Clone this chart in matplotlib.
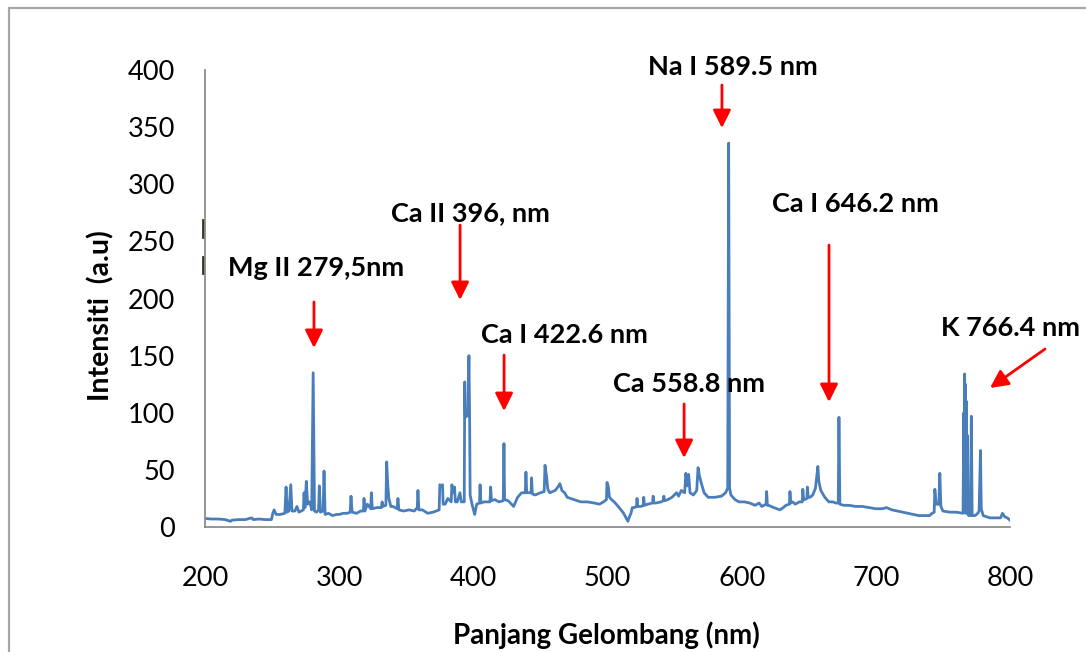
import matplotlib
matplotlib.use("Agg")
import matplotlib.pyplot as plt
from matplotlib.patches import Rectangle

plt.rcParams['font.family'] = ['Lato', 'DejaVu Sans']

# spectrum (nm, a.u)
wavelength_nm = [
    200, 205, 210, 215, 219, 220, 225, 230, 234.8, 236, 240, 245, 249.5,
    250.5, 251.5, 253, 256, 259.5, 260.4, 261.2, 262.5, 263.9, 264.8, 267, 268.5, 270,
    273.3, 273.8, 274.5, 275.5, 276.5, 278, 279.5, 280.6, 281.6, 283, 284.6, 285.2,
    286, 288, 288.7, 289.5, 292, 295, 298, 300,
    303, 306, 308.2, 308.8, 309.6, 313, 316, 318, 318.5, 319.2, 321, 323.5, 324,
    324.7, 328, 331.5, 332, 332.6, 334.8, 335.4, 336.2, 337, 338.5, 340, 343.2,
    343.8, 344.5, 348, 352, 356, 358.2, 358.7, 359.4, 362, 366, 370, 374.5, 375,
    376, 377, 377.5, 379, 381, 383.5, 384, 385, 386, 386.6, 388, 390, 391, 392.5,
    393.2, 393.6, 394.0, 394.6, 395.3, 396.0, 396.7, 397.2, 397.6, 399, 401, 402.5,
    404.6, 405, 405.6, 408, 412.4, 412.9, 413.5, 416, 419, 422.3, 422.8, 423.3,
    426, 430, 433, 436, 438.7, 439.2, 439.8, 441, 443, 443.4, 444, 446, 450,
    452.8, 453.4, 454.5, 455.5, 457, 461, 463, 464.5, 466, 468, 470,
    475, 480, 485, 490, 494, 497, 499.2, 499.6, 500.5, 501.5, 503, 505,
    508, 512, 515.2, 516, 517.5, 518.5, 520, 521.6, 522, 522.5, 525, 526.6, 527,
    527.5, 530, 533.6, 534, 534.5, 536, 540, 541.6, 542, 542.5, 545, 548, 551.5,
    553, 555, 557.5, 558.4, 559.5, 560.5, 561.5, 564, 566.5, 567.5, 568.5, 570,
    572, 575, 580, 585, 588, 589.6, 590.3, 591, 592,
    595, 598, 602, 606, 610, 613, 615, 618.2, 618.6, 619.2, 620, 624, 628.5, 631,
    633, 635.6, 636, 636.6, 638, 640, 643, 645.2, 645.6, 646.2, 647, 648.6, 649,
    649.6, 651, 653, 655, 656.8, 657.5, 659, 662, 665, 668, 670, 672, 672.5, 673.2,
    676, 680, 685, 690, 695, 700, 705, 708, 712, 716, 720, 724, 728, 732, 736,
    740, 742, 743.5, 744, 745, 747, 747.7, 748.5, 750, 755, 760, 765,
    765.6, 765.9, 766.2, 766.5, 766.8, 767.1, 767.5, 767.9, 768.3, 768.7, 769.2,
    770.5, 771.2, 771.8, 774, 776, 777, 778, 778.6, 780, 785, 790, 793, 794.4,
    796, 798, 800,
]
intensity_au = [
    7.5, 7, 7, 6.5, 5, 6, 6.5, 6.5, 8, 6.5, 7, 6.5, 6.5,
    12, 15, 11, 11, 12, 35, 13, 14, 37, 14, 14, 18, 13,
    15, 30, 17, 40, 20, 22, 15, 135, 14, 13, 15, 36,
    13, 14, 49, 11, 12, 10, 11, 11,
    12, 12, 13, 27, 13, 12, 14, 14, 25, 14, 20, 16, 30,
    16, 17, 17, 22, 18, 19, 57, 37, 25, 18, 18, 16,
    25, 15, 14, 15, 14, 17, 32, 15, 15, 12, 13, 15, 37,
    36, 37, 20, 20, 25, 22, 37, 30, 35, 22, 22, 30, 22, 22,
    22, 127, 96, 100, 97, 100, 150, 98, 28, 20, 11, 20,
    21, 37, 21, 22, 22, 35, 23, 24, 22, 23, 73, 24,
    23, 18, 26, 30, 30, 48, 30, 30, 30, 43, 29, 28, 30,
    31, 54, 45, 33, 30, 32, 35, 38, 32, 30, 26,
    24, 22, 22, 21, 20, 22, 24, 39, 36, 26, 24, 22,
    18, 12, 5, 8, 12, 17, 17, 18, 25, 18, 18, 19, 26,
    19, 20, 21, 27, 21, 21, 22, 23, 27, 23, 24, 26, 30,
    27, 32, 30, 47, 36, 46, 30, 28, 32, 52, 45, 38,
    30, 26, 26, 27, 30, 34, 336, 34, 28,
    24, 22, 22, 21, 19, 21, 18, 20, 31, 19, 19, 17, 15, 17,
    19, 20, 31, 21, 22, 20, 22, 22, 33, 24, 24, 25, 35,
    26, 26, 28, 34, 53, 40, 32, 26, 22, 22, 21, 21, 96, 20,
    19, 19, 18, 18, 17, 16, 16, 17, 15, 14, 13, 12, 11, 10, 10,
    10, 12, 13, 33, 20, 20, 47, 18, 14, 13, 13, 12,
    100, 20, 134, 15, 125, 12, 110, 14, 80, 11, 10,
    10, 97, 10, 10, 12, 14, 67, 16, 10, 8, 8, 8, 12,
    9, 8, 6,
]

# annotations: label, text position, arrow tail, arrow head (data units)
labels = ["Mg II 279,5nm", "Ca II 396, nm", "Ca I 422.6 nm", "Ca 558.8 nm",
          "Na I 589.5 nm", "Ca I 646.2 nm", "K 766.4 nm"]
text_xy = [(282.4, 226.7), (397.5, 274.8), (467.6, 168.0), (560.4, 125.2),
           (593.2, 402.6), (684.8, 282.7), (800.7, 174.2)]
arrow_tail = [(281.2, 197), (390.1, 264.3), (422.9, 150.5), (557.1, 107.7),
              (585.3, 386.9), (665.1, 246.8), (826.1, 155.8)]
arrow_head = [(281.2, 156.7), (390.1, 198.7), (422.9, 101.5), (557.1, 60.4),
              (585.3, 349.2), (665.1, 109.4), (785.1, 121.7)]

fig = plt.figure(figsize=(10.86, 6.52), dpi=100)
ax = fig.add_axes([0.1888, 0.1917, 0.7412, 0.7009])

ax.plot(wavelength_nm, intensity_au, color='#4a7ebb', lw=2.0)

ax.set_xlim(200, 800)
ax.set_ylim(0, 400)
ax.set_xticks(range(200, 801, 100))
ax.set_yticks(range(0, 401, 50))
for s in ['top', 'right']:
    ax.spines[s].set_visible(False)
for s in ['left', 'bottom']:
    ax.spines[s].set_color('#8c8c8c')
    ax.spines[s].set_linewidth(1.3)
ax.tick_params(axis='both', length=0, labelsize=19.5, colors='black')
ax.tick_params(axis='y', pad=21.5)
ax.tick_params(axis='x', pad=28)

ax.set_xlabel('Panjang Gelombang (nm)', fontsize=20, fontweight='bold', va='center')
ax.xaxis.set_label_coords(0.499, -0.236)
ax.set_ylabel('Intensiti  (a.u)', fontsize=20.5, fontweight='bold', va='center')
ax.yaxis.set_label_coords(-0.130, 0.462)

for lab, (tx, ty), tail, head in zip(labels, text_xy, arrow_tail, arrow_head):
    ax.text(tx, ty, lab, ha='center', va='center', fontsize=19.5,
            fontweight='bold', clip_on=False)
    ax.annotate('', xy=head, xytext=tail, annotation_clip=False,
                arrowprops=dict(arrowstyle='-|>,head_length=0.9,head_width=0.45',
                                mutation_scale=12, color='red', lw=2,
                                shrinkA=0, shrinkB=0))

# two stray marks on the value axis
for y0, y1 in [(0.6346, 0.6718), (0.5558, 0.5908)]:
    ax.plot([-0.002, -0.002], [y0, y1], transform=ax.transAxes, color='#3a3020',
            lw=2, clip_on=False)

# chart frame (cropped on the right and bottom)
fig.patches.append(Rectangle((9 / 1086, -0.1), 1.2, 0.1 + 1 - 8 / 652,
                             transform=fig.transFigure, fill=False,
                             edgecolor='#a6a6a6', lw=1.6))

fig.savefig('out.png', dpi=100)
